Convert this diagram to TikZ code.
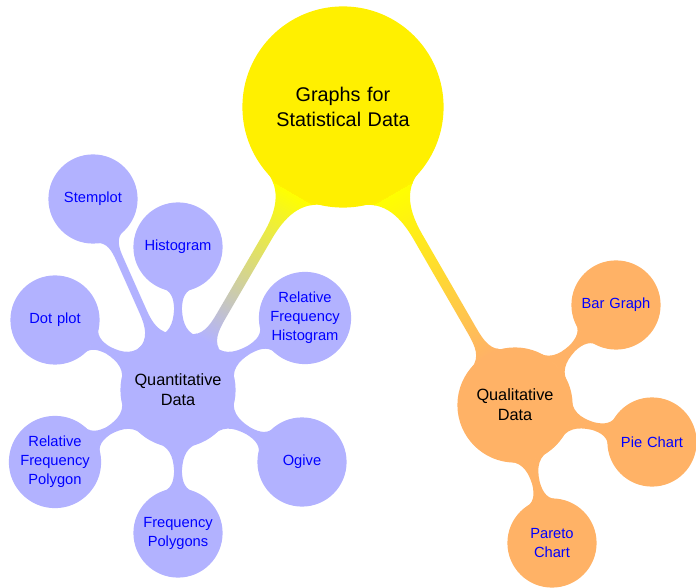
\documentclass[tikz,border=0pt]{standalone}
\usepackage{fontspec}
\setmainfont{Liberation Sans}
\usepackage{tikz}
\usetikzlibrary{mindmap}

\definecolor{rootyellow}{RGB}{255,240,0}

\begin{document}
\begin{tikzpicture}[
x=1pt, y=1pt,
mindmap,
root_node/.style={concept, concept color=rootyellow, text=black, minimum size=200pt, text width=180pt, align=center, font=\fontsize{19.8}{24.3}\selectfont},
topic_node/.style={concept, text=black, minimum size=114pt, text width=100pt, align=center, font=\fontsize{16.3}{20}\selectfont},
leaf_node/.style={concept, text=blue, minimum size=88pt, text width=72pt, align=center, font=\fontsize{14.7}{19}\selectfont},
main_bar/.style={line width=16pt},
leaf_bar/.style={line width=9.5pt}
]
\useasboundingbox (0,0) rectangle (696,587);

% Root
\node[root_node] (root) at (343,480) {Graphs for\\Statistical Data};

% Quantitative branch
\node[topic_node, concept color=blue!30] (quant) at (178,197) {Quantitative\\Data};
\node[leaf_node, concept color=blue!30] (stem) at (93,388) {Stemplot};
\node[leaf_node, concept color=blue!30] (hist) at (178,340) {Histogram};
\node[leaf_node, concept color=blue!30] (dot) at (55,267) {Dot plot};
\node[leaf_node, concept color=blue!30] (relhist) at (305,269) {Relative\\Frequency\\Histogram};
\node[leaf_node, concept color=blue!30] (relpoly) at (55,125) {Relative\\Frequency\\Polygon};
\node[leaf_node, concept color=blue!30] (freqpoly) at (178,54) {Frequency\\Polygons};
\node[leaf_node, concept color=blue!30] (ogive) at (302,125) {Ogive};

% Qualitative branch
\node[topic_node, concept color=orange!60] (qual) at (515,182) {Qualitative\\Data};
\node[leaf_node, concept color=orange!60] (bar) at (616,282) {Bar Graph};
\node[leaf_node, concept color=orange!60] (pie) at (652,145) {Pie Chart};
\node[leaf_node, concept color=orange!60] (pareto) at (552,44) {Pareto\\Chart};

% Connections
\path[main_bar] (root) to[circle connection bar switch color=from (yellow) to (blue!30)] (quant);
\path[main_bar] (root) to[circle connection bar switch color=from (yellow) to (orange!60)] (qual);

\begin{scope}[concept color=blue!30]
\foreach \leaf in {stem, hist, dot, relhist, relpoly, freqpoly, ogive}
  \path[leaf_bar] (quant) to[circle connection bar] (\leaf);
\end{scope}

\begin{scope}[concept color=orange!60]
\foreach \leaf in {bar, pie, pareto}
  \path[leaf_bar] (qual) to[circle connection bar] (\leaf);
\end{scope}
\end{tikzpicture}
\end{document}
